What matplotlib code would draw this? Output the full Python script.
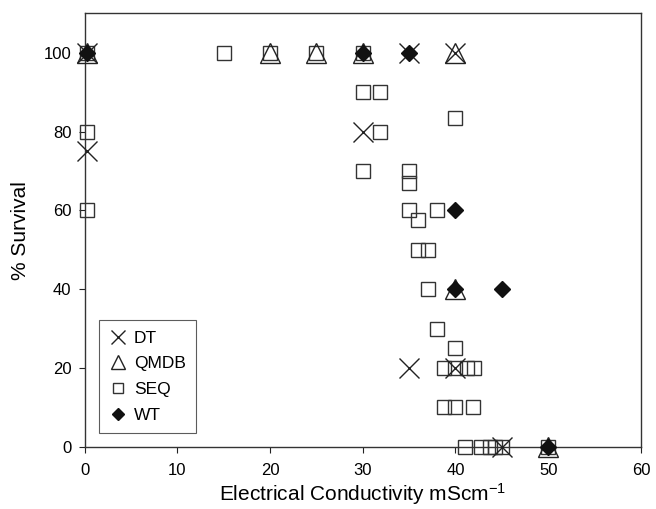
import matplotlib
matplotlib.use("Agg")
import matplotlib.pyplot as plt

plt.rcParams['font.family'] = ['Liberation Sans', 'DejaVu Sans']
plt.rcParams['mathtext.fontset'] = 'custom'
plt.rcParams['mathtext.rm'] = 'Liberation Sans'
plt.rcParams['mathtext.it'] = 'Liberation Sans'

# survival (%) against electrical conductivity (mS/cm), one list pair per strain
dt_x = [0.3, 0.3, 30, 35, 35, 40, 40, 45]
dt_y = [100, 75, 80, 100, 20, 100, 20, 0]

qmdb_x = [0.3, 20, 25, 30, 40, 40, 50]
qmdb_y = [100, 100, 100, 100, 100, 40, 0]

seq_x = [0.3, 0.3, 0.3, 15, 20, 25, 30, 30, 31.9, 31.9, 39.9, 30, 35, 35, 35, 36, 38,
         36, 37, 37, 38, 40, 38.8, 40, 41.2, 42, 38.8, 39.9, 41.9,
         41, 42.8, 43.7, 44.3, 45, 50]
seq_y = [100, 80, 60, 100, 100, 100, 100, 90, 90, 80, 83.5, 70, 70, 67, 60, 57.5, 60,
         50, 50, 40, 30, 25, 20, 20, 20, 20, 10, 10, 10,
         0, 0, 0, 0, 0, 0]

wt_x = [0.3, 30, 35, 40, 40, 45, 50]
wt_y = [100, 100, 100, 60, 40, 40, 0]

x_ticks = [0, 10, 20, 30, 40, 50, 60]
y_ticks = [0, 20, 40, 60, 80, 100]

fig = plt.figure(figsize=(6.56, 5.09), dpi=100)
ax = fig.add_axes([0.129, 0.122, 0.848, 0.852])

ax.plot(dt_x, dt_y, 'x', ms=14, mew=1.0, color='#222222', label='DT', zorder=4, clip_on=False)
ax.plot(qmdb_x, qmdb_y, '^', ms=14, mew=1.0, mfc='none', mec='#222222', label='QMDB',
        zorder=3, clip_on=False)
ax.plot(seq_x, seq_y, 's', ms=10, mew=1.0, mfc='none', mec='#333333', label='SEQ',
        zorder=2, clip_on=False)
ax.plot(wt_x, wt_y, 'D', ms=8.5, color='#111111', label='WT', zorder=5, clip_on=False)

ax.set_xlim(0, 60)
ax.set_ylim(0, 110)
ax.set_xticks(x_ticks)
ax.set_yticks(y_ticks)
ax.tick_params(direction='out', length=4.5, width=0.8, labelsize=12, color='#222222')
ax.tick_params(axis='x', pad=7)
ax.tick_params(axis='y', pad=5)
for s in ax.spines.values():
    s.set_linewidth(1.0)
    s.set_color('#333333')

ax.set_xlabel('Electrical Conductivity mScm$^{-1}$', fontsize=15, labelpad=2)
ax.set_ylabel('% Survival', fontsize=15, labelpad=10)

leg = ax.legend(loc='lower left', bbox_to_anchor=(0.026, 0.032), fontsize=12.5,
                frameon=True, fancybox=False, borderaxespad=0, handlelength=1.0,
                handletextpad=0.4, labelspacing=0.6, borderpad=0.6, markerscale=0.7)
leg.get_frame().set_edgecolor('#333333')
leg.get_frame().set_linewidth(0.8)

fig.savefig('out.png', dpi=100)
